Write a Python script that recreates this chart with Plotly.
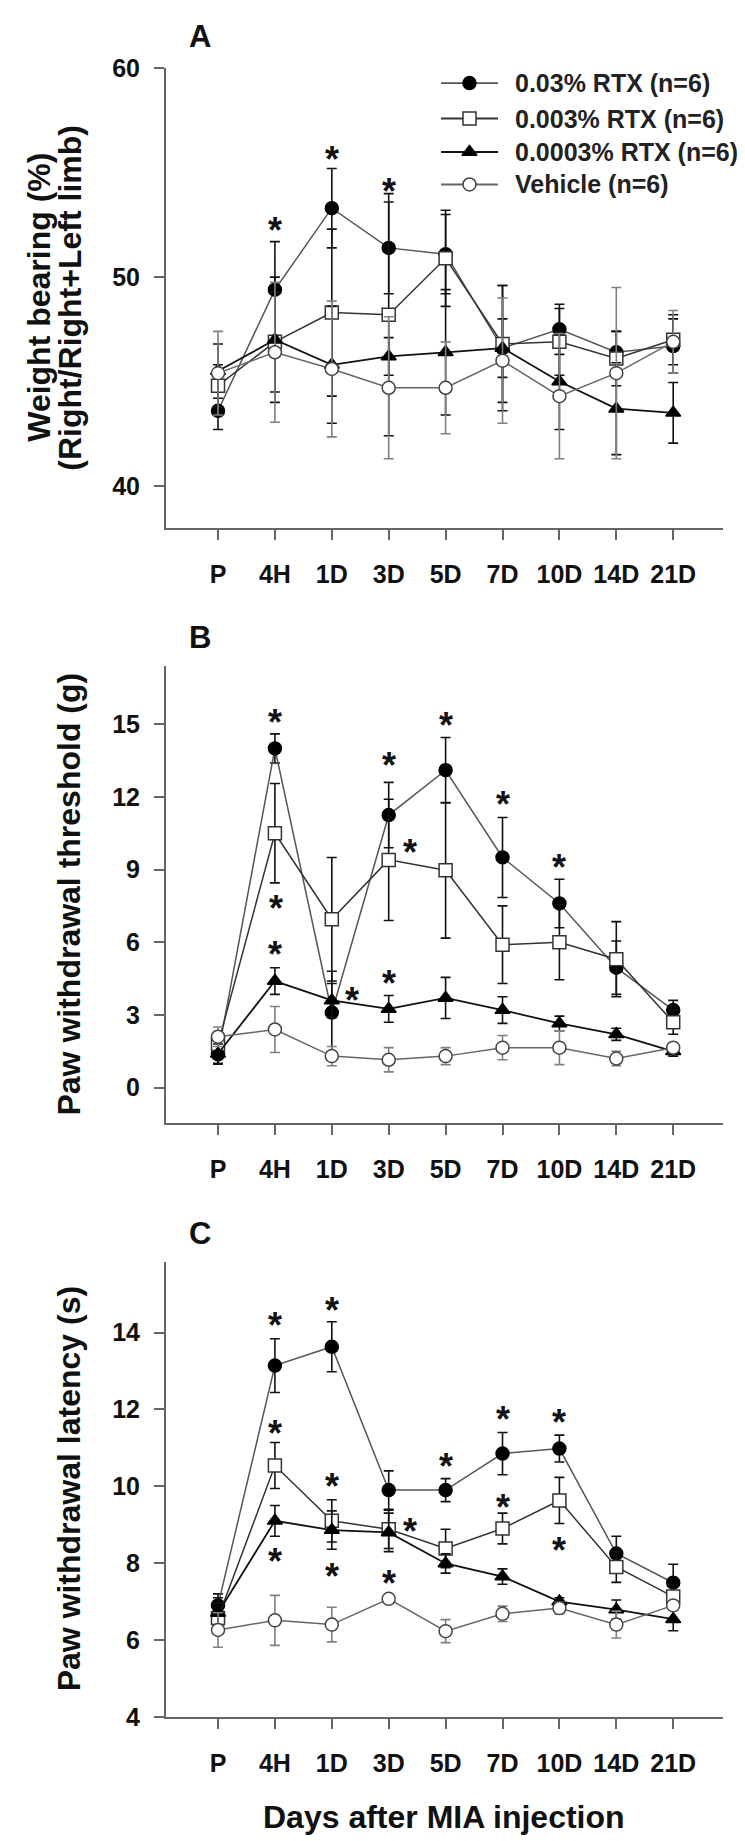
import plotly.graph_objects as go

W, H = 745, 1841
FONT = "Liberation Sans, Arial, sans-serif"

categories = ["P", "4H", "1D", "3D", "5D", "7D", "10D", "14D", "21D"]
series_names = ["0.03% RTX (n=6)", "0.003% RTX (n=6)", "0.0003% RTX (n=6)", "Vehicle (n=6)"]

# ---- Panel A : weight bearing (%) ----
a_rtx_003 = [43.6, 49.4, 53.3, 51.4, 51.1, 46.6, 47.5, 46.4, 46.7]
a_rtx_003_err = [0.9, 2.3, 1.9, 2.2, 1.9, 1.4, 1.2, 1.0, 1.3]
a_rtx_0003 = [44.8, 46.9, 48.3, 48.2, 50.9, 46.8, 46.9, 46.1, 47.0]
a_rtx_0003_err = [1.0, 2.4, 4.0, 5.8, 2.3, 2.8, 1.6, 1.3, 1.2]
a_rtx_00003 = [45.5, 47.0, 45.8, 46.2, 46.4, 46.6, 45.0, 43.7, 43.5]
a_rtx_00003_err = [1.3, 3.0, 2.8, 0.9, 3.0, 3.0, 2.3, 2.2, 1.45]
a_vehicle = [45.4, 46.4, 45.6, 44.7, 44.7, 46.0, 44.3, 45.4, 46.9]
a_vehicle_err = [2.0, 3.35, 3.25, 3.4, 2.2, 3.0, 3.0, 4.1, 1.5]
a_star_x = [1, 2, 3]
a_star_y = [52.7, 56.1, 54.6]

# ---- Panel B : paw withdrawal threshold (g) ----
b_rtx_003 = [1.37, 14.0, 3.1, 11.25, 13.1, 9.5, 7.6, 4.95, 3.2]
b_rtx_003_err = [0.4, 0.6, 1.7, 1.35, 1.35, 1.65, 1.0, 1.1, 0.4]
b_rtx_0003 = [1.8, 10.5, 6.95, 9.4, 8.97, 5.9, 6.0, 5.3, 2.7]
b_rtx_0003_err = [0.4, 2.05, 2.55, 2.5, 2.8, 1.6, 1.55, 1.55, 0.5]
b_rtx_00003 = [1.4, 4.4, 3.6, 3.25, 3.7, 3.2, 2.65, 2.2, 1.5]
b_rtx_00003_err = [0.4, 0.55, 0.7, 0.55, 0.85, 0.55, 0.3, 0.25, 0.2]
b_vehicle = [2.1, 2.4, 1.3, 1.15, 1.3, 1.65, 1.65, 1.2, 1.65]
b_vehicle_err = [0.4, 0.95, 0.4, 0.5, 0.35, 0.5, 0.7, 0.3, 0.2]
b_star_x = [1, 1.02, 1, 2.36, 3, 3, 3.37, 4, 5, 6]
b_star_y = [15.5, 7.8, 5.9, 4.0, 13.7, 4.7, 10.1, 15.35, 12.1, 9.5]

# ---- Panel C : paw withdrawal latency (s) ----
c_rtx_003 = [6.9, 13.14, 13.63, 9.9, 9.9, 10.85, 10.98, 8.25, 7.49]
c_rtx_003_err = [0.3, 0.7, 0.65, 0.5, 0.3, 0.55, 0.35, 0.45, 0.48]
c_rtx_0003 = [6.57, 10.54, 9.1, 8.88, 8.38, 8.9, 9.63, 7.9, 7.13]
c_rtx_0003_err = [0.4, 0.6, 0.55, 0.5, 0.5, 0.4, 0.6, 0.4, 0.3]
c_rtx_00003 = [6.7, 9.1, 8.86, 8.8, 7.99, 7.65, 7.0, 6.79, 6.54]
c_rtx_00003_err = [0.4, 0.4, 0.5, 0.5, 0.25, 0.2, 0.1, 0.25, 0.3]
c_vehicle = [6.26, 6.51, 6.4, 7.07, 6.23, 6.68, 6.83, 6.4, 6.9]
c_vehicle_err = [0.45, 0.65, 0.45, 0.1, 0.3, 0.2, 0.15, 0.35, 0.1]
c_star_x = [1, 1, 1, 2, 2, 2, 3.37, 3, 4, 5, 5, 6, 6]
c_star_y = [14.45, 11.63, 8.3, 14.84, 10.26, 7.9, 9.08, 7.74, 10.78, 11.99, 9.72, 11.93, 8.58]

styles = [
    dict(symbol="circle", fill="#000000", edge="#000000", line="#555555", err="#111111", lw=1.5),
    dict(symbol="square", fill="#ffffff", edge="#333333", line="#333333", err="#111111", lw=1.5),
    dict(symbol="triangle-up", fill="#000000", edge="#000000", line="#111111", err="#111111", lw=1.8),
    dict(symbol="circle", fill="#ffffff", edge="#444444", line="#666666", err="#808080", lw=1.5),
]

panels = [
    dict(vals=[a_rtx_003, a_rtx_0003, a_rtx_00003, a_vehicle],
         errs=[a_rtx_003_err, a_rtx_0003_err, a_rtx_00003_err, a_vehicle_err],
         sx=a_star_x, sy=a_star_y, top=47, bottom=513.5, yrange=[38, 60], ticks=[40, 50, 60]),
    dict(vals=[b_rtx_003, b_rtx_0003, b_rtx_00003, b_vehicle],
         errs=[b_rtx_003_err, b_rtx_0003_err, b_rtx_00003_err, b_vehicle_err],
         sx=b_star_x, sy=b_star_y, top=654, bottom=1118, yrange=[-1.46, 17.4], ticks=[0, 3, 6, 9, 12, 15]),
    dict(vals=[c_rtx_003, c_rtx_0003, c_rtx_00003, c_vehicle],
         errs=[c_rtx_003_err, c_rtx_0003_err, c_rtx_00003_err, c_vehicle_err],
         sx=c_star_x, sy=c_star_y, top=1259, bottom=1721, yrange=[4, 15.84], ticks=[4, 6, 8, 10, 12, 14]),
]

xpos = list(range(len(categories)))
X_LEFT, X_RIGHT = 158, 715
AXC = "#666666"

fig = go.Figure()
annotations = []
layout_axes = {}

for i, p in enumerate(panels):
    sfx = "" if i == 0 else str(i + 1)
    xa, ya = "x" + sfx, "y" + sfx
    for k in range(4):
        st = styles[k]
        fig.add_trace(go.Scatter(
            x=xpos, y=p["vals"][k], xaxis=xa, yaxis=ya, mode="lines+markers",
            showlegend=False, name=series_names[k],
            line=dict(color=st["line"], width=st["lw"]),
            marker=dict(symbol=st["symbol"], size=13, color=st["fill"],
                        line=dict(color=st["edge"], width=1.5)),
            error_y=dict(type="data", array=p["errs"][k], visible=True,
                         color=st["err"], thickness=1.6, width=5),
        ))
    for sx, sy in zip(p["sx"], p["sy"]):
        annotations.append(dict(x=sx, y=sy, xref=xa, yref=ya, text="*", showarrow=False,
                                font=dict(family=FONT, size=36, color="#111111", weight="bold"),
                                yshift=-10))
    layout_axes["xaxis" + sfx] = dict(
        domain=[X_LEFT / W, X_RIGHT / W], anchor=ya, range=[-0.914, 8.875],
        tickmode="array", tickvals=xpos, ticktext=categories,
        ticks="outside", ticklen=10, tickwidth=2, tickcolor=AXC,
        showline=True, linecolor=AXC, linewidth=2, showgrid=False, zeroline=False,
        tickfont=dict(family=FONT, size=25, color="#111111", weight="bold"),
        ticklabelstandoff=13,
    )
    layout_axes["yaxis" + sfx] = dict(
        domain=[1 - p["bottom"] / H, 1 - p["top"] / H], anchor=xa, range=p["yrange"],
        tickmode="array", tickvals=p["ticks"],
        ticks="outside", ticklen=10, tickwidth=2, tickcolor=AXC,
        showline=True, linecolor=AXC, linewidth=2, showgrid=False, zeroline=False,
        tickfont=dict(family=FONT, size=25, color="#111111", weight="bold"),
        ticklabelstandoff=9,
    )

# ---- manual legend (panel A) ----
legend_rows = [62, 98, 132, 165]
for k in range(4):
    st = styles[k]
    fig.add_trace(go.Scatter(x=[0, 1], y=[legend_rows[k]] * 2, xaxis="x4", yaxis="y4",
                             mode="lines", showlegend=False, hoverinfo="skip",
                             line=dict(color=st["line"], width=st["lw"] + 0.3)))
    fig.add_trace(go.Scatter(x=[0.5], y=[legend_rows[k]], xaxis="x4", yaxis="y4",
                             mode="markers", showlegend=False, hoverinfo="skip",
                             marker=dict(symbol=st["symbol"], size=13, color=st["fill"],
                                         line=dict(color=st["edge"], width=1.5))))
    annotations.append(dict(x=505 / W, y=1 - legend_rows[k] / H, xref="paper", yref="paper",
                            text=series_names[k], showarrow=False, xanchor="left", yanchor="middle",
                            font=dict(family=FONT, size=25, color="#222222", weight="bold")))
layout_axes["xaxis4"] = dict(domain=[433 / W, 490 / W], range=[0, 1], visible=False, anchor="y4")
layout_axes["yaxis4"] = dict(domain=[1 - 185 / H, 1 - 40 / H], range=[185, 40], visible=False, anchor="x4")

# ---- panel letters and axis titles ----
for letter, yy in [("A", 15), ("B", 625), ("C", 1230)]:
    annotations.append(dict(x=192 / W, y=1 - yy / H, xref="paper", yref="paper", text=letter,
                            showarrow=False, xanchor="center", yanchor="middle",
                            font=dict(family=FONT, size=31, color="#111111", weight="bold")))

titles = [
    ("Weight bearing (%)", 31, 280),
    ("(Right/Right+Left limb)", 62, 280),
    ("Paw withdrawal threshold (g)", 61, 886),
    ("Paw withdrawal latency (s)", 61, 1490),
]
for txt, xx, yy in titles:
    annotations.append(dict(x=xx / W, y=1 - yy / H, xref="paper", yref="paper", text=txt,
                            textangle=-90, showarrow=False, xanchor="center", yanchor="middle",
                            font=dict(family=FONT, size=32, color="#111111", weight="bold")))
annotations.append(dict(x=436 / W, y=1 - 1823 / H, xref="paper", yref="paper",
                        text="Days after MIA injection", showarrow=False,
                        xanchor="center", yanchor="middle",
                        font=dict(family=FONT, size=32, color="#111111", weight="bold")))

fig.update_layout(
    width=W, height=H, margin=dict(l=0, r=0, t=0, b=0),
    paper_bgcolor="white", plot_bgcolor="white",
    font=dict(family=FONT, color="#111111"),
    annotations=annotations, showlegend=False, **layout_axes,
)

fig.write_html("out.html")
